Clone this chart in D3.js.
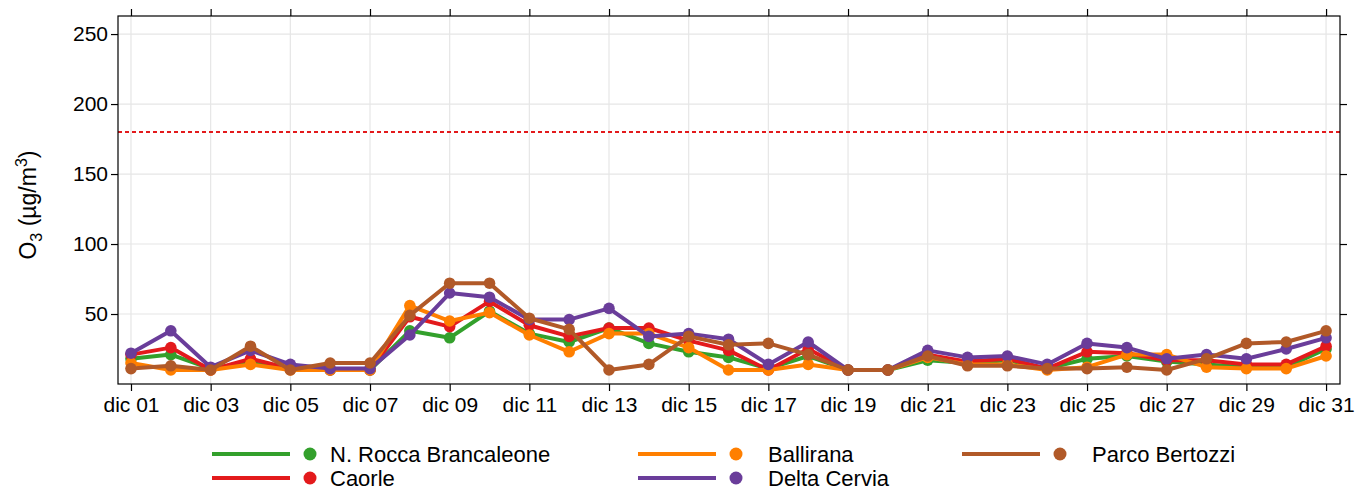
<!DOCTYPE html><html><head><meta charset="utf-8"><script src="https://cdn.jsdelivr.net/npm/d3@7"></script>
<style>body{margin:0;background:#fff}text{font-family:"Liberation Sans",Arial,sans-serif}</style></head><body><svg id="c" width="1363" height="491"></svg><script>
const days=d3.range(1,32);
const tickLabels=["dic 01","dic 03","dic 05","dic 07","dic 09","dic 11","dic 13","dic 15","dic 17","dic 19","dic 21","dic 23","dic 25","dic 27","dic 29","dic 31"];
const yTicks=[50,100,150,200,250];
const names=["N. Rocca Brancaleone","Caorle","Ballirana","Delta Cervia","Parco Bertozzi"];
const colors=["#33a02c","#e31a1c","#ff7f00","#6a3d9a","#b15928"];
const rocca=[18,21,11,15,11,10,10,38,33,52,36,30,40,29,23,19,11,20,10,10,17,15,17,11,18,20,16,14,12,12,25];
const caorle=[21,26,10,18,11,10,10,48,41,59,42,34,40,40,31,24,10,25,10,10,21,16,18,11,23,22,17,17,14,14,27];
const ballirana=[15,10,10,14,10,10,10,56,45,51,35,23,36,36,26,10,10,14,10,10,19,14,14,10,12,21,21,12,11,11,20];
const cervia=[22,38,12,24,14,11,11,35,65,62,46,46,54,34,36,32,14,30,10,10,24,19,20,14,29,26,18,21,18,25,33];
const bertozzi=[11,13,10,27,10,15,15,49,72,72,47,39,10,14,34,28,29,21,10,10,20,13,13,11,11,12,10,18,29,30,38];
const series=[rocca,caorle,ballirana,cervia,bertozzi];
const threshold=180;
const L=118,R=1340,T=16,B=384;
const x=d3.scaleLinear().domain([0.674,31.35]).range([L,R]);
const y=d3.scaleLinear().domain([0,262.9]).range([B,T]);
const svg=d3.select("#c");
const g=svg.append("g");
g.selectAll(".gx").data(days.filter((d,i)=>i%2==0)).join("line").attr("x1",d=>x(d)).attr("x2",d=>x(d)).attr("y1",T).attr("y2",B).attr("stroke","#e6e6e6").attr("stroke-width",1.2);
g.selectAll(".gy").data(yTicks).join("line").attr("x1",L).attr("x2",R).attr("y1",d=>y(d)).attr("y2",d=>y(d)).attr("stroke","#e6e6e6").attr("stroke-width",1.2);
g.append("line").attr("x1",L).attr("x2",R).attr("y1",y(threshold)).attr("y2",y(threshold)).attr("stroke","#e31a1c").attr("stroke-width",2).attr("stroke-dasharray","4,3");
const line=d3.line().x((d,i)=>x(days[i])).y(d=>y(d));
series.forEach((s,k)=>{
 g.append("path").attr("d",line(s)).attr("fill","none").attr("stroke",colors[k]).attr("stroke-width",4).attr("stroke-linejoin","round");
 g.selectAll(null).data(s).join("circle").attr("cx",(d,i)=>x(days[i])).attr("cy",d=>y(d)).attr("r",5.8).attr("fill",colors[k]);
});
g.append("rect").attr("x",L).attr("y",T).attr("width",R-L).attr("height",B-T).attr("fill","none").attr("stroke","#000").attr("stroke-width",1.2);
const xt=days.filter((d,i)=>i%2==0);
svg.append("g").attr("transform",`translate(0,${B})`).call(d3.axisBottom(x).tickValues(xt).tickFormat((d,i)=>tickLabels[i]).tickSize(7).tickSizeOuter(0)).call(a=>{a.select(".domain").remove();a.selectAll("line").attr("stroke-width",1.2);a.selectAll("text").attr("font-size",21).attr("y",11).attr("dy","0.8em").attr("fill","#000");});
svg.append("g").attr("transform",`translate(0,${T})`).call(d3.axisTop(x).tickValues(xt).tickFormat("").tickSize(7).tickSizeOuter(0)).call(a=>{a.select(".domain").remove();a.selectAll("line").attr("stroke-width",1.2);});
svg.append("g").attr("transform",`translate(${L},0)`).call(d3.axisLeft(y).tickValues(yTicks).tickSize(7).tickSizeOuter(0)).call(a=>{a.select(".domain").remove();a.selectAll("line").attr("stroke-width",1.2);a.selectAll("text").attr("font-size",21).attr("x",-10).attr("fill","#000");});
svg.append("g").attr("transform",`translate(${R},0)`).call(d3.axisRight(y).tickValues(yTicks).tickFormat("").tickSize(7).tickSizeOuter(0)).call(a=>{a.select(".domain").remove();a.selectAll("line").attr("stroke-width",1.2);});
const yl=svg.append("text").attr("transform",`translate(36,${(T+B)/2+5}) rotate(-90)`).attr("text-anchor","middle").attr("font-size",23);
yl.append("tspan").text("O");yl.append("tspan").attr("font-size",16).attr("dy",6).text("3");
yl.append("tspan").attr("dy",-6).text(" (µg/m");yl.append("tspan").attr("font-size",16).attr("dy",-9).text("3");yl.append("tspan").attr("dy",9).text(")");
const lx=[212,638,962],ly=[454,478];
const order=[[0,0],[1,0],[0,1],[1,1],[0,2]];
names.forEach((n,k)=>{const [r,c]=order[k];const lg=svg.append("g");
 lg.append("line").attr("x1",lx[c]).attr("x2",lx[c]+78).attr("y1",ly[r]).attr("y2",ly[r]).attr("stroke",colors[k]).attr("stroke-width",4);
 lg.append("circle").attr("cx",lx[c]+98).attr("cy",ly[r]).attr("r",6.5).attr("fill",colors[k]);
 lg.append("text").attr("x",lx[c]+118+(c==0?0:12)).attr("y",ly[r]).attr("dy","0.35em").attr("font-size",22).text(n);
});
</script></body></html>
